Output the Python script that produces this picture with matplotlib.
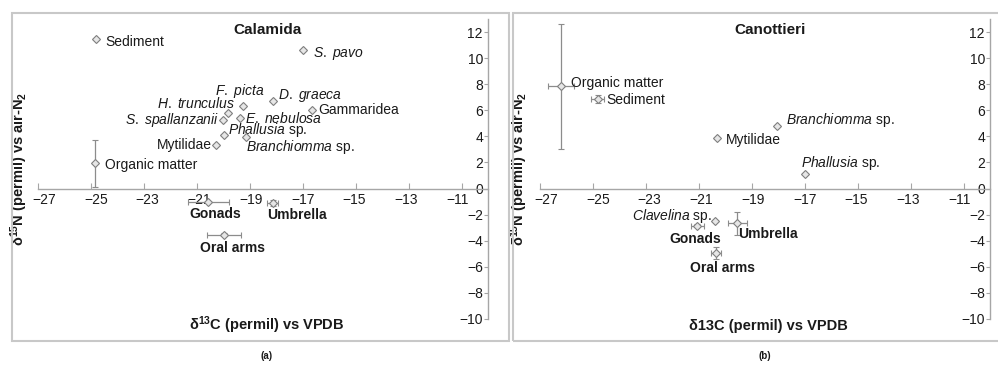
import matplotlib
matplotlib.use("Agg")
import matplotlib.pyplot as plt
from matplotlib.patches import Rectangle
from matplotlib.transforms import ScaledTranslation

plt.rcParams['font.family'] = ['Liberation Sans', 'DejaVu Sans']
plt.rcParams['mathtext.fontset'] = 'custom'
plt.rcParams['mathtext.rm'] = 'Liberation Sans'
plt.rcParams['mathtext.it'] = 'Liberation Sans:italic'
plt.rcParams['mathtext.bf'] = 'Liberation Sans:bold'

# Calamida (a)
cal_names = ['Sediment', r'$\mathit{S.\ pavo}$', r'$\mathit{F.\ picta}$', r'$\mathit{D.\ graeca}$',
             'Gammaridea', r'$\mathit{H.\ trunculus}$', r'$\mathit{S.\ spallanzanii}$',
             r'$\mathit{E.\ nebulosa}$', r'$\mathit{Phallusia}$ sp.', r'$\mathit{Branchiomma}$ sp.',
             'Mytilidae', 'Organic matter', 'Gonads', 'Umbrella', 'Oral arms']
cal_x = [-24.8, -17.0, -19.28, -18.12, -16.67, -19.82, -20.03, -19.38, -20.0, -19.15,
         -20.3, -24.85, -20.57, -18.14, -19.98]
cal_y = [11.45, 10.6, 6.36, 6.7, 6.0, 5.82, 5.23, 5.44, 4.1, 3.95,
         3.31, 1.95, -1.05, -1.1, -3.54]
cal_xerr = [0, 0, 0, 0, 0, 0, 0, 0, 0, 0, 0, 0, 0.76, 0.2, 0.63]
cal_yerr = [0, 0, 0, 0, 0, 0, 0, 0, 0, 0, 0, 1.8, 0, 0.25, 0.1]

# Canottieri (b)
can_names = ['Organic matter', 'Sediment', r'$\mathit{Branchiomma}$ sp.', 'Mytilidae',
             r'$\mathit{Phallusia}$ sp.', r'$\mathit{Clavelina}$ sp.', 'Gonads', 'Umbrella', 'Oral arms']
can_x = [-26.2, -24.82, -18.07, -20.31, -16.99, -20.4, -21.06, -19.55, -20.36]
can_y = [7.85, 6.85, 4.82, 3.9, 1.13, -2.46, -2.85, -2.67, -4.95]
can_xerr = [0.5, 0.25, 0, 0, 0, 0, 0.23, 0.36, 0.2]
can_yerr = [4.78, 0.3, 0, 0, 0, 0, 0.1, 0.86, 0.45]

tissues = ['Gonads', 'Umbrella', 'Oral arms']
xticks = list(range(-27, -10, 2))
yticks = list(range(-10, 13, 2))

# label placement (pixel offsets from marker, alignment)
cal_layout = [(9, -3, 'left'), (10, -3, 'left'), (-3, 15, 'center'), (5, 6, 'left'),
              (7, 0, 'left'), (7, 9, 'right'), (-4, 0, 'right'), (5, -1, 'left'),
              (4, 5, 'left'), (0, -10, 'left'), (-4, 0, 'right'), (10, -2, 'left'),
              (7, -12, 'center'), (24, -12, 'center'), (8, -13, 'center')]
can_layout = [(10, 3, 'left'), (9, -1, 'left'), (9, 6, 'left'), (9, -2, 'left'),
              (-4, 11, 'left'), (-3, 5, 'right'), (-2, -13, 'center'), (31, -11, 'center'),
              (7, -15, 'center')]

axis_col = '#a6a6a6'
text_col = '#1a1a1a'

fig = plt.figure(figsize=(9.98, 3.67), dpi=100)


def draw_panel(rect, title, xs, ys, xerr, yerr, names, layout, xlabel, ylab_x):
    ax = fig.add_axes(rect)
    ax.set_xlim(-27, -10)
    ax.set_ylim(-10, 13)
    ax.spines['top'].set_visible(False)
    ax.spines['right'].set_visible(False)
    ax.spines['left'].set_position(('data', -10))
    ax.spines['bottom'].set_position(('data', 0))
    for s in ['left', 'bottom']:
        ax.spines[s].set_color(axis_col)
        ax.spines[s].set_linewidth(1.0)
    ax.set_xticks(xticks)
    ax.set_yticks(yticks)
    ax.tick_params(axis='x', direction='in', length=4, color=axis_col, labelsize=10,
                   labelcolor=text_col, pad=3)
    ax.tick_params(axis='y', direction='out', length=3, color=axis_col, labelsize=10,
                   labelcolor=text_col, pad=1)
    # excel spaces the x labels slightly tighter than the ticks
    labs = ax.get_xticklabels()
    for i, lab in enumerate(labs):
        px = 6 - 10 * i / (len(labs) - 1)
        lab.set_transform(lab.get_transform() + ScaledTranslation(px / 100, 0, fig.dpi_scale_trans))
    ax.patch.set_visible(False)

    ax.errorbar(xs, ys, xerr=xerr, yerr=yerr, fmt='D', ms=4.5, mfc='#e6e6e6', mec='#7f7f7f',
                mew=0.8, ecolor='#8c8c8c', elinewidth=0.9, capsize=2, capthick=0.9, zorder=3)

    for i, name in enumerate(names):
        dx, dy, ha = layout[i]
        bold = name in tissues
        ax.annotate(name, (xs[i], ys[i]), xytext=(dx, dy), textcoords='offset pixels',
                    ha=ha, va='center', fontsize=10, color=text_col,
                    fontweight='bold' if bold else 'normal')

    ax.text(0.51, 0.962, title, transform=ax.transAxes, ha='center', va='center',
            fontsize=11, fontweight='bold', color=text_col)
    ax.text(0.508, -0.022, xlabel, transform=ax.transAxes, ha='center', va='center',
            fontsize=10.5, fontweight='bold', color=text_col)
    ax.text(ylab_x, 0.5, r'δ$^{\mathbf{15}}$N (permil) vs air-N$_{\mathbf{2}}$',
            transform=ax.transAxes, ha='center', va='center', rotation=90,
            fontsize=10.5, fontweight='bold', color=text_col)
    return ax


draw_panel([38 / 998, 48 / 367, 450.5 / 998, 300 / 367], 'Calamida', cal_x, cal_y,
           cal_xerr, cal_yerr, cal_names, cal_layout,
           r'δ$^{\mathbf{13}}$C (permil) vs VPDB', -0.042)
draw_panel([540 / 998, 48 / 367, 450.5 / 998, 300 / 367], 'Canottieri', can_x, can_y,
           can_xerr, can_yerr, can_names, can_layout,
           'δ13C (permil) vs VPDB', -0.046)

# panel frames
fig.add_artist(Rectangle((12 / 998, 26 / 367), 497 / 998, 328 / 367, transform=fig.transFigure,
                         fill=False, ec='#c8c8c8', lw=1.5))
fig.add_artist(Rectangle((513 / 998, 26 / 367), 495 / 998, 328 / 367, transform=fig.transFigure,
                         fill=False, ec='#c8c8c8', lw=1.5))

fig.text(267 / 998, 1 - 356 / 367, '(a)', ha='center', va='center', fontsize=7,
         fontweight='bold', color=text_col)
fig.text(765 / 998, 1 - 356 / 367, '(b)', ha='center', va='center', fontsize=7,
         fontweight='bold', color=text_col)

fig.savefig('out.png', dpi=100)
